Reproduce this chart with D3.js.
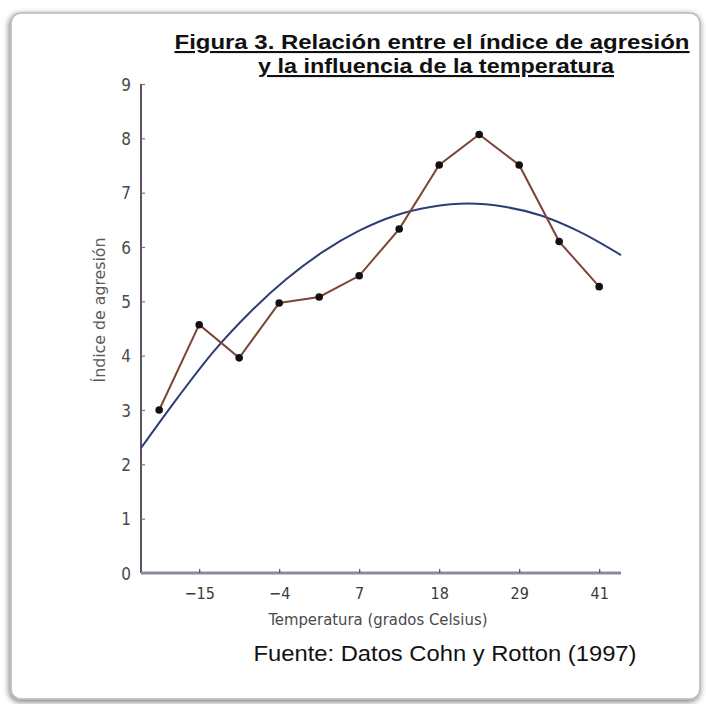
<!DOCTYPE html>
<html>
<head>
<meta charset="utf-8">
<script src="https://cdn.jsdelivr.net/npm/d3@7"></script>
<style>
  html, body { margin: 0; padding: 0; background: #fff; }
  svg { display: block; }
</style>
</head>
<body>
<div id="chart"></div>
<script>
// ---- DATA ----
const temps = [-20.5, -15, -9.5, -4, 1.5, 7, 12.5, 18, 23.5, 29, 34.5, 40];
const aggression = [3.0, 4.57, 3.96, 4.97, 5.08, 5.47, 6.33, 7.51, 8.07, 7.51, 6.10, 5.27];

// fitted curve, sampled by eye
const fitTemps = [-23, -18, -13, -8, -3, 2, 7, 12, 17, 22, 27, 32, 37, 43];
const fitValues = [2.30, 3.22, 4.08, 4.80, 5.41, 5.91, 6.30, 6.58, 6.74, 6.80, 6.74, 6.58, 6.30, 5.85];

const xTickValues = [-15, -4, 7, 18, 29, 40];
const xTickLabels = ['\u221215', '\u22124', '7', '18', '29', '41'];
const yTickValues = [0, 1, 2, 3, 4, 5, 6, 7, 8, 9];

const titleLines = ['Figura 3. Relación entre el índice de agresión', 'y la influencia de la temperatura'];
const sourceText = 'Fuente: Datos Cohn y Rotton (1997)';

// ---- LAYOUT ----
const W = 706, H = 704;
const svg = d3.select('#chart').append('svg').attr('width', W).attr('height', H);

// frame with soft shadow
const defs = svg.append('defs');
const shadow = defs.append('filter').attr('id', 'shadow')
  .attr('x', '-5%').attr('y', '-5%').attr('width', '110%').attr('height', '110%');
shadow.append('feGaussianBlur').attr('in', 'SourceAlpha').attr('stdDeviation', 3);
shadow.append('feOffset').attr('dx', -1).attr('dy', 2).attr('result', 'blur');
shadow.append('feComponentTransfer').append('feFuncA').attr('type', 'linear').attr('slope', 0.55);
const merge = shadow.append('feMerge');
merge.append('feMergeNode');
merge.append('feMergeNode').attr('in', 'SourceGraphic');

svg.append('rect')
  .attr('x', 11).attr('y', 13).attr('width', 689).attr('height', 686)
  .attr('rx', 10).attr('ry', 10)
  .attr('fill', '#fff').attr('stroke', '#b8b8b8').attr('stroke-width', 1.5)
  .attr('filter', 'url(#shadow)');

const x = d3.scaleLinear().domain([-23, 43]).range([141, 621]);
const y = d3.scaleLinear().domain([0, 9]).range([573, 84]);

const tickFont = '"DejaVu Sans Condensed", "Liberation Sans Narrow", sans-serif';

// ---- AXES ----
const yAxis = svg.append('g')
  .attr('transform', `translate(${x.range()[0]},0)`)
  .call(d3.axisRight(y).tickValues(yTickValues).tickSize(4).tickFormat(''));
yAxis.select('.domain').attr('stroke', '#57535f').attr('stroke-width', 2).attr('d', `M0,${y(9)}V${y(0)}`);
yAxis.selectAll('.tick line').attr('stroke', '#777').attr('stroke-width', 1.2);

yAxis.selectAll('.tick').append('text')
  .attr('x', -10).attr('dy', '0.36em')
  .attr('text-anchor', 'end')
  .attr('fill', '#4a4a4a')
  .style('font-family', tickFont).style('font-size', '17px')
  .text(d => d);

const xAxis = svg.append('g')
  .attr('transform', `translate(0,${y(0)})`)
  .call(d3.axisTop(x).tickValues(xTickValues).tickSize(4).tickFormat(''));
xAxis.select('.domain').attr('stroke', '#8a8c9c').attr('stroke-width', 3).attr('d', `M${x.range()[0]},0H${x.range()[1]}`);
xAxis.selectAll('.tick line').attr('stroke', '#555').attr('stroke-width', 1.2);

xAxis.selectAll('.tick').append('text')
  .attr('y', 26)
  .attr('text-anchor', 'middle')
  .attr('fill', '#3a3a3a')
  .style('font-family', tickFont).style('font-size', '16px')
  .text((d, i) => xTickLabels[i]);

// axis titles
svg.append('text')
  .attr('transform', 'translate(105,310) rotate(-90)')
  .attr('text-anchor', 'middle')
  .attr('fill', '#5a5a5a')
  .attr('textLength', 145).attr('lengthAdjust', 'spacingAndGlyphs')
  .style('font-family', tickFont).style('font-size', '15px')
  .text('Índice de agresión');

svg.append('text')
  .attr('x', 378).attr('y', 625)
  .attr('text-anchor', 'middle')
  .attr('fill', '#4a4a4a')
  .attr('textLength', 219).attr('lengthAdjust', 'spacingAndGlyphs')
  .style('font-family', tickFont).style('font-size', '15px')
  .text('Temperatura (grados Celsius)');

// ---- SERIES ----
const fitLine = d3.line()
  .x((d, i) => x(fitTemps[i]))
  .y(d => y(d))
  .curve(d3.curveMonotoneX);

svg.append('path')
  .datum(fitValues)
  .attr('d', fitLine)
  .attr('fill', 'none')
  .attr('stroke', '#2e3d78')
  .attr('stroke-width', 2);

const dataLine = d3.line()
  .x((d, i) => x(temps[i]))
  .y(d => y(d));

svg.append('path')
  .datum(aggression)
  .attr('d', dataLine)
  .attr('fill', 'none')
  .attr('stroke', '#7d4536')
  .attr('stroke-width', 2);

svg.selectAll('.pt')
  .data(aggression)
  .join('circle')
  .attr('class', 'pt')
  .attr('cx', (d, i) => x(temps[i]))
  .attr('cy', d => y(d))
  .attr('r', 3.8)
  .attr('fill', '#111');

// ---- TITLE + SOURCE ----
const titleX = [432, 436];
const titleLen = [515, 356];
const title = svg.append('g')
  .style('font-family', '"Liberation Sans", Arial, sans-serif')
  .style('font-weight', 'bold')
  .style('font-size', '21px')
  .attr('fill', '#111');

titleLines.forEach((t, i) => {
  title.append('text')
    .attr('x', titleX[i]).attr('y', 49 + i * 24)
    .attr('text-anchor', 'middle')
    .attr('textLength', titleLen[i]).attr('lengthAdjust', 'spacingAndGlyphs')
    .style('text-decoration', 'underline')
    .text(t);
});

svg.append('text')
  .attr('x', 445).attr('y', 661)
  .attr('text-anchor', 'middle')
  .attr('fill', '#111')
  .attr('textLength', 383).attr('lengthAdjust', 'spacingAndGlyphs')
  .style('font-family', '"Liberation Sans", Arial, sans-serif')
  .style('font-size', '22px')
  .text(sourceText);
</script>
</body>
</html>
